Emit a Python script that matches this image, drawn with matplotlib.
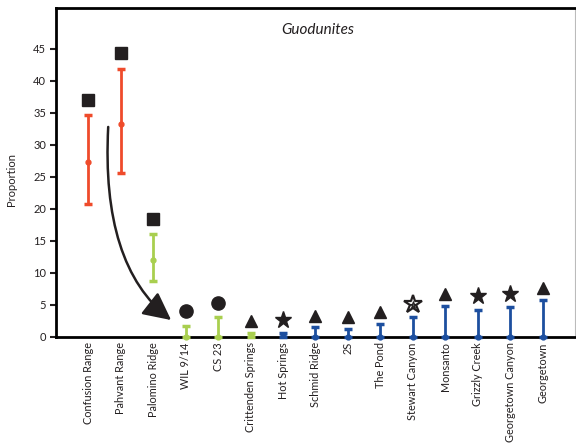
import matplotlib
matplotlib.use("Agg")
import matplotlib.pyplot as plt
from matplotlib.patches import FancyArrowPatch

plt.rcParams['font.family'] = ['Lato', 'DejaVu Sans']

# Sites and proportions
sites = ['Confusion Range', 'Pahvant Range', 'Palomino Ridge', 'WIL 9/14', 'CS 23',
         'Crittenden Springs', 'Hot Springs', 'Schmid Ridge', '2S', 'The Pond',
         'Stewart Canyon', 'Monsanto', 'Grizzly Creek', 'Georgetown Canyon', 'Georgetown']
means = [27.3, 33.3, 12.0, 0, 0, 0.2, 0.2, 0, 0, 0, 0, 0, 0, 0, 0]
lower = [20.8, 25.6, 8.7, 0, 0, 0, 0, 0, 0, 0, 0, 0, 0, 0, 0]
upper = [34.6, 41.9, 16.0, 1.7, 3.1, 0.5, 0.5, 1.5, 1.25, 1.95, 3.1, 4.8, 4.2, 4.65, 5.75]
groups = ['red', 'red', 'green', 'green', 'green', 'green', 'blue', 'blue', 'blue',
          'blue', 'blue', 'blue', 'blue', 'blue', 'blue']

# symbols above each bar
symbol_y = [37.0, 44.3, 18.4, 4.0, 5.2, 2.5, 2.6, 3.3, 3.1, 3.8, 5.1, 6.7, 6.3, 6.7, 7.6]
symbols = ['s', 's', 's', 'o', 'o', '^', '*', '^', '^', '^', '*', '^', '*', '*', '^']
open_symbol = [False] * 10 + [True] + [False] * 4

palette = {'red': '#ef4b2b', 'green': '#a9cf4f', 'blue': '#1d4f9f'}
ink = '#231f20'
sizes = {'s': 9, 'o': 9.5, '^': 8.5, '*': 12.5}

fig = plt.figure(figsize=(5.76, 4.45), dpi=100)
ax = fig.add_axes([0.0972, 0.2434, 0.901, 0.7386])

x = list(range(len(sites)))
for i in x:
    c = palette[groups[i]]
    ax.errorbar(i, means[i], yerr=[[means[i] - lower[i]], [upper[i] - means[i]]],
                fmt='o', color=c, ms=3.5, elinewidth=2, capsize=3, capthick=2.5,
                clip_on=False, zorder=3)
    if open_symbol[i]:
        ax.plot(i, symbol_y[i], marker=symbols[i], ms=sizes[symbols[i]] + 1,
                mfc='white', mec=ink, mew=1.6, zorder=4)
        ax.plot(i, symbol_y[i] - 0.15, marker=symbols[i], ms=5.5,
                mfc='#555555', mec=ink, mew=0.8, zorder=5)
    else:
        ax.plot(i, symbol_y[i], marker=symbols[i], ms=sizes[symbols[i]],
                color=ink, mec=ink, zorder=4)

# curved arrow from the west sites toward the eastern ones
arrow = FancyArrowPatch((0.61, 32.8), (2.55, 2.6),
                        connectionstyle='angle3,angleA=87,angleB=-38',
                        arrowstyle='-|>,head_length=1.0,head_width=0.5',
                        mutation_scale=17, lw=1.8, color=ink, zorder=5,
                        shrinkA=0, shrinkB=0)
ax.add_patch(arrow)

ax.set_xlim(-1, 15)
ax.set_ylim(0, 51.4)
ax.set_yticks(range(0, 50, 5))
ax.set_xticks(x)
ax.set_xticklabels(sites, rotation=90, fontsize=7.8, color=ink)
ax.tick_params(axis='x', length=0, pad=4)
ax.tick_params(axis='y', length=4, width=1.5, labelsize=8, labelcolor=ink, color=ink, pad=3)
ax.set_ylabel('Proportion', fontsize=8, color=ink)
ax.yaxis.set_label_coords(-0.075, 0.477)

for side in ['left', 'bottom', 'top']:
    ax.spines[side].set_linewidth(2)
    ax.spines[side].set_color('black')
ax.spines['right'].set_linewidth(0.8)
ax.spines['right'].set_color('#bbbbbb')

ax.text(0.504, 0.933, 'Guodunites', transform=ax.transAxes, ha='center', va='center',
        fontsize=11, style='italic', color=ink)

fig.savefig('out.png', dpi=100)
